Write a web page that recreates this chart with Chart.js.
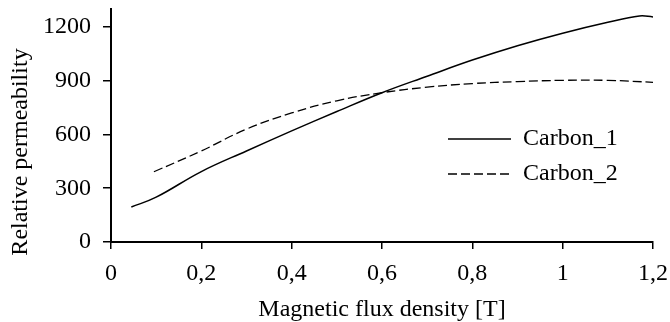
<!DOCTYPE html>
<html>
<head>
<meta charset="utf-8">
<script src="https://cdn.jsdelivr.net/npm/chart.js@4.4.1/dist/chart.umd.min.js"></script>
<style>
  html, body { margin: 0; padding: 0; background: #fff; }
  #wrap { width: 670px; height: 322px; }
</style>
</head>
<body>
<div id="wrap"><canvas id="PermeabilityChart"></canvas></div>
<script>
// values
const fluxDensity1 = [0.045, 0.1, 0.2, 0.3, 0.4, 0.5, 0.6, 0.7, 0.8, 0.9, 1.0, 1.1, 1.17, 1.2];
const carbon1 = [195, 250, 393, 508, 620, 728, 833, 925, 1015, 1095, 1165, 1226, 1261, 1256];
const fluxDensity2 = [0.095, 0.2, 0.3, 0.4, 0.5, 0.6, 0.7, 0.8, 0.9, 1.0, 1.1, 1.2];
const carbon2 = [392, 508, 630, 720, 788, 833, 864, 884, 895, 902, 902, 891];
const xTicks = [0, 0.2, 0.4, 0.6, 0.8, 1.0, 1.2];
const yTicks = [0, 300, 600, 900, 1200];
const seriesNames = ['Carbon_1', 'Carbon_2'];
const xTitle = 'Magnetic flux density [T]';
const yTitle = 'Relative permeability';

const FONT = 'Liberation Serif';
const FONT_SIZE = 24;

const toPoints = (xs, ys) => xs.map((x, i) => ({ x: x, y: ys[i] }));

// legend inside the plot area + the y axis title, placed as in the figure
const figureText = {
    id: 'figureText',
    afterDraw(chart) {
        const ctx = chart.ctx;
        const area = chart.chartArea;
        const x0 = area.left + 337;
        const lineLen = 63;
        ctx.save();
        ctx.font = FONT_SIZE + 'px "' + FONT + '"';
        ctx.fillStyle = '#000';
        ctx.textBaseline = 'middle';
        chart.data.datasets.forEach((ds, i) => {
            const y = area.top + 130 + i * 35;
            ctx.beginPath();
            ctx.strokeStyle = '#000';
            ctx.lineWidth = ds.borderWidth;
            ctx.setLineDash(ds.borderDash || []);
            ctx.moveTo(x0, y);
            ctx.lineTo(x0 + lineLen, y);
            ctx.stroke();
            ctx.setLineDash([]);
            ctx.fillText(ds.label, x0 + lineLen + 12, y);
        });

        ctx.translate(21, 152);
        ctx.rotate(-Math.PI / 2);
        ctx.textAlign = 'center';
        ctx.fillText(yTitle, 0, 0);
        ctx.restore();
    }
};

new Chart(document.getElementById('PermeabilityChart'), {
    type: 'line',
    data: {
        datasets: [{
            label: seriesNames[0],
            data: toPoints(fluxDensity1, carbon1),
            borderColor: '#000',
            borderWidth: 1.5,
            pointRadius: 0,
            tension: 0.4,
            fill: false
        }, {
            label: seriesNames[1],
            data: toPoints(fluxDensity2, carbon2),
            borderColor: '#000',
            borderWidth: 1.3,
            borderDash: [9, 4],
            pointRadius: 0,
            tension: 0.4,
            fill: false
        }]
    },
    options: {
        responsive: true,
        maintainAspectRatio: false,
        animation: false,
        layout: { padding: { left: 0, right: 17, top: 9, bottom: 0 } },
        plugins: {
            legend: { display: false },
            tooltip: { enabled: false }
        },
        scales: {
            x: {
                type: 'linear',
                min: 0,
                max: 1.2,
                afterBuildTicks: (scale) => { scale.ticks = xTicks.map(v => ({ value: v })); },
                afterFit: (scale) => {
                    scale.height = 80;
                    scale.paddingLeft = 0;
                    scale.paddingRight = 0;
                },
                grid: { drawOnChartArea: false, color: '#000', lineWidth: 1.5, tickLength: 7 },
                border: { color: '#000', width: 2 },
                ticks: {
                    color: '#000',
                    padding: 10,
                    maxRotation: 0,
                    font: { family: FONT, size: FONT_SIZE },
                    callback: (v) => String(Number(v.toFixed(1))).replace('.', ',')
                },
                title: {
                    display: true,
                    text: xTitle,
                    color: '#000',
                    font: { family: FONT, size: FONT_SIZE, lineHeight: 1.0 },
                    padding: { top: 0, bottom: 0 }
                }
            },
            y: {
                min: 0,
                max: 1300,
                afterBuildTicks: (scale) => { scale.ticks = yTicks.map(v => ({ value: v })); },
                afterFit: (scale) => {
                    scale.width = 111;
                    scale.paddingTop = 0;
                    scale.paddingBottom = 0;
                },
                grid: { drawOnChartArea: false, color: '#000', lineWidth: 1.5, tickLength: 8 },
                border: { color: '#000', width: 2 },
                ticks: {
                    color: '#000',
                    padding: 12,
                    font: { family: FONT, size: FONT_SIZE },
                    callback: (v) => String(v)
                }
            }
        }
    },
    plugins: [figureText]
});
</script>
</body>
</html>
